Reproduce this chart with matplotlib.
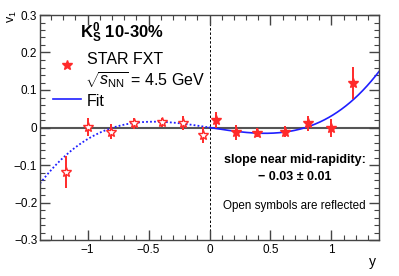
import matplotlib
matplotlib.use("Agg")
import matplotlib.pyplot as plt
from matplotlib.lines import Line2D
from matplotlib.ticker import MultipleLocator, FuncFormatter
import numpy as np

plt.rcParams['font.family'] = ['Liberation Sans', 'DejaVu Sans']
plt.rcParams['mathtext.fontset'] = 'custom'
plt.rcParams['mathtext.rm'] = 'Liberation Sans'
plt.rcParams['mathtext.it'] = 'Liberation Sans:italic'
plt.rcParams['mathtext.bf'] = 'Liberation Sans:bold'
plt.rcParams['axes.unicode_minus'] = True

# measured points (y > 0), filled symbols
y_meas = [0.05, 0.22, 0.39, 0.62, 0.81, 1.00, 1.18]
v1_meas = [0.020, -0.013, -0.014, -0.011, 0.011, -0.002, 0.119]
v1_err = [0.021, 0.019, 0.012, 0.014, 0.020, 0.024, 0.043]

# reflected points (open symbols): y -> -y, v1 -> -v1
y_refl = [-v for v in y_meas]
v1_refl = [-v for v in v1_meas]

# fit: v1 = a*y + b*y^3
fit_a = -0.051
fit_b = 0.082

fig = plt.figure(figsize=(3.99, 2.76), dpi=100)
ax = fig.add_axes([40/399, 1-240/276, 339/399, 225/276])

xmin, xmax = -1.39, 1.39
ax.set_xlim(xmin, xmax)
ax.set_ylim(-0.3, 0.3)

ax.axhline(0, color='#555555', lw=1.5, zorder=1)
ax.axvline(0, color='black', lw=0.7, ls=(0, (2.5, 2)), zorder=1)

yy_neg = np.linspace(xmin, 0, 200)
yy_pos = np.linspace(0, xmax, 200)
ax.plot(yy_neg, fit_a*yy_neg + fit_b*yy_neg**3, color='#1f1fff', lw=1.3,
        ls=(0, (1, 1.2)), zorder=2)
ax.plot(yy_pos, fit_a*yy_pos + fit_b*yy_pos**3, color='#1f1fff', lw=1.2, zorder=2)

red = '#ff2a2a'
ax.errorbar(y_meas, v1_meas, yerr=v1_err, fmt='*', color=red, ms=7,
            elinewidth=1.4, capsize=0, zorder=3)
ax.errorbar(y_refl, v1_refl, yerr=v1_err, fmt='*', color=red, ms=7,
            mfc='white', mec=red, mew=1.0, elinewidth=1.4, capsize=0, zorder=3)

# ROOT-like axis frame
for s in ax.spines.values():
    s.set_color('#444444')
    s.set_linewidth(1.0)
ax.xaxis.set_major_locator(MultipleLocator(0.5))
ax.xaxis.set_minor_locator(MultipleLocator(0.1))
ax.yaxis.set_major_locator(MultipleLocator(0.1))
ax.yaxis.set_minor_locator(MultipleLocator(0.02))
ax.tick_params(which='both', direction='in', top=True, right=True,
               colors='#444444', labelcolor='black', labelsize=8.5)
ax.tick_params(which='major', length=7, width=1.0)
ax.tick_params(which='minor', length=3.5, width=0.8)
ax.tick_params(axis='x', pad=3)
ax.tick_params(axis='y', pad=2)
fmt = FuncFormatter(lambda v, p: ('%g' % round(v, 3)).replace('-', '\u2212'))
ax.xaxis.set_major_formatter(fmt)
ax.yaxis.set_major_formatter(fmt)

fig.text(12/399, 1-17/276, r'v$_1$', rotation=90, ha='center', va='center', fontsize=9)
fig.text(372/399, 1-262/276, 'y', ha='center', va='center', fontsize=10)

# title and legend
fig.text(80/399, 1-33/276, r'$\mathbf{K^0_S}$ 10-30%', fontweight='bold',
         fontsize=12, ha='left', va='center')
fig.add_artist(Line2D([67/399], [1-65/276], marker='*', color=red, ms=7,
                      transform=fig.transFigure, ls='none'))
fig.text(87/399, 1-60/276, 'STAR FXT', fontsize=11.5, ha='left', va='center')
fig.text(85/399, 1-80/276, r'$\sqrt{s_{\rm NN}}$ = 4.5 GeV', fontsize=11.5,
         ha='left', va='center')
fig.add_artist(Line2D([53/399, 81/399], [1-99/276, 1-99/276], color='#1f1fff',
                      lw=1.2, transform=fig.transFigure))
fig.text(87/399, 1-101/276, 'Fit', fontsize=11.5, ha='left', va='center')

fig.text(295/399, 1-160/276, 'slope near mid-rapidity:', fontweight='bold',
         fontsize=9, ha='center', va='center')
fig.text(295/399, 1-177/276, '\u2212 0.03 \u00b1 0.01', fontweight='bold',
         fontsize=9, ha='center', va='center')
fig.text(294/399, 1-206/276, 'Open symbols are reflected', fontsize=8.4,
         ha='center', va='center')

fig.savefig('out.png', dpi=100)
